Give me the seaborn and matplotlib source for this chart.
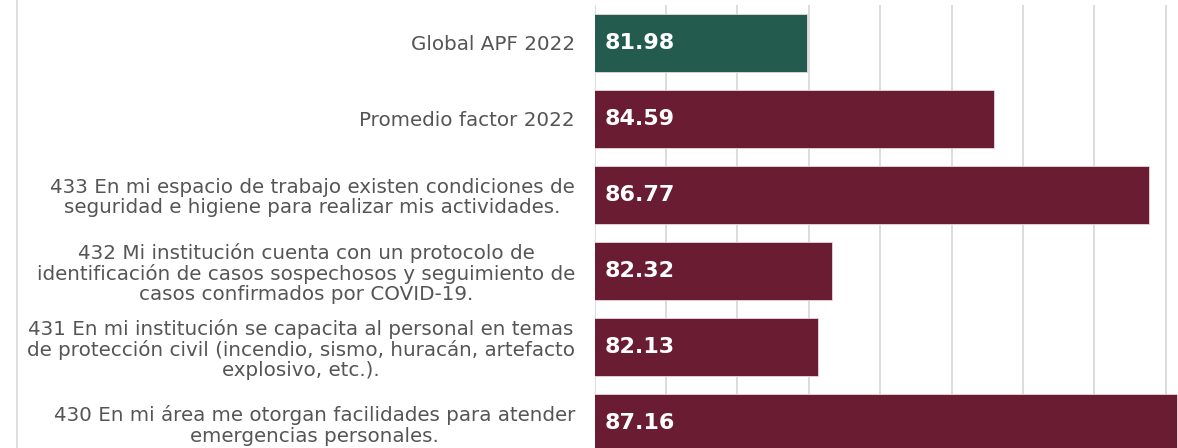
import matplotlib
matplotlib.use("Agg")
import matplotlib.pyplot as plt
from matplotlib.lines import Line2D
import pandas as pd
import seaborn as sns

# data
labels = [
    "Global APF 2022",
    "Promedio factor 2022",
    "433 En mi espacio de trabajo existen condiciones de\nseguridad e higiene para realizar mis actividades.",
    "432 Mi institución cuenta con un protocolo de\nidentificación de casos sospechosos y seguimiento de\ncasos confirmados por COVID-19.",
    "431 En mi institución se capacita al personal en temas\nde protección civil (incendio, sismo, huracán, artefacto\nexplosivo, etc.).",
    "430 En mi área me otorgan facilidades para atender\nemergencias personales.",
]
values = [81.98, 84.59, 86.77, 82.32, 82.13, 87.16]
groups = ["global", "factor", "factor", "factor", "factor", "factor"]
colors = {"global": "#235B4E", "factor": "#691C32"}

df = pd.DataFrame({"label": labels, "value": values, "group": groups})

sns.set_style("white")
plt.rcParams["font.family"] = ["DejaVu Sans"]

fig = plt.figure(figsize=(11.78, 4.48), dpi=100)
ax = fig.add_axes([594.5 / 1178, 0, 1 - 594.5 / 1178, 1 - 4.8 / 448])

sns.barplot(data=df, y="label", x="value", hue="group", palette=colors,
            orient="h", width=0.76, dodge=False, legend=False, ax=ax,
            saturation=1, edgecolor="#e8d6db", linewidth=0.6, zorder=3)

x0 = 79
ax.set_xlim(x0, 87.17)
ax.set_ylim(5.33, -0.5)
ax.set_xticks(range(79, 88))
ax.grid(axis="x", color="#d9d9d9", linewidth=1.3, zorder=0)
ax.grid(axis="y", visible=False)
ax.set_axisbelow(True)
ax.tick_params(axis="x", length=0, labelbottom=False)
ax.tick_params(axis="y", length=0, pad=14, labelsize=14.3, labelcolor="#555555")
for t in ax.get_yticklabels():
    t.set_multialignment("center")
    t.set_linespacing(1.08)
for s in ax.spines.values():
    s.set_visible(False)
ax.set_xlabel("")
ax.set_ylabel("")

for i, v in enumerate(values):
    ax.annotate(f"{v:.2f}", xy=(x0, i), xytext=(7.5, 0), textcoords="offset points",
                ha="left", va="center", color="white", fontsize=16,
                fontweight="semibold", zorder=5)

fig.add_artist(Line2D([16.5 / 1178, 16.5 / 1178], [0, 1], color="#d9d9d9",
                      linewidth=1.2, transform=fig.transFigure))

fig.savefig("out.png", dpi=100)
